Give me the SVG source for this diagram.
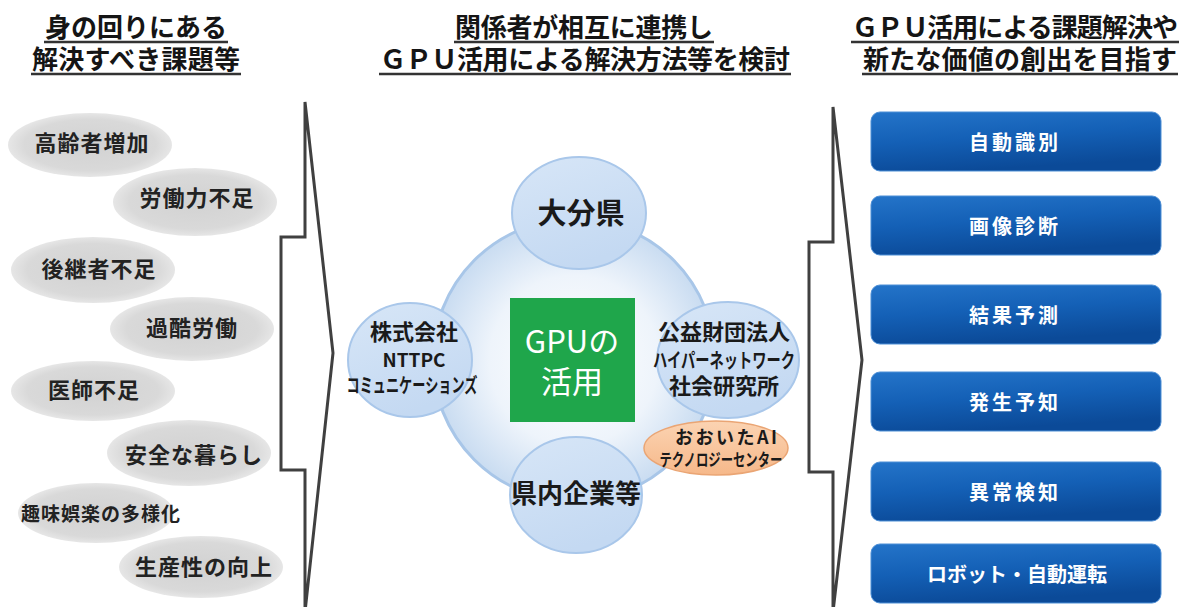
<svg xmlns="http://www.w3.org/2000/svg" width="1190" height="607" viewBox="0 0 1190 607">
<defs>
<radialGradient id="gEll" cx="50%" cy="50%" r="50%">
<stop offset="0" stop-color="#d2d2d2"/>
<stop offset="0.8" stop-color="#d9d9d9"/>
<stop offset="1" stop-color="#e6e6e6"/>
</radialGradient>
<radialGradient id="gBig" cx="50%" cy="50%" r="50%">
<stop offset="0" stop-color="#ffffff"/>
<stop offset="0.6" stop-color="#eef4fb"/>
<stop offset="1" stop-color="#c9dcf1"/>
</radialGradient>
<linearGradient id="gSmall" x1="0" y1="0" x2="0.4" y2="1">
<stop offset="0" stop-color="#d7e6f7"/>
<stop offset="1" stop-color="#c4d9f2"/>
</linearGradient>
<linearGradient id="gOrange" x1="0" y1="0" x2="0" y2="1">
<stop offset="0" stop-color="#fbd3b2"/>
<stop offset="1" stop-color="#f6b88a"/>
</linearGradient>
<linearGradient id="gBlue" x1="0" y1="0" x2="0.3" y2="1">
<stop offset="0" stop-color="#2474c9"/>
<stop offset="0.5" stop-color="#1460b6"/>
<stop offset="1" stop-color="#0b4a98"/>
</linearGradient>
<style>
.hd{font-family:"Noto Sans CJK JP","Noto Sans",sans-serif;font-weight:bold;font-size:26px;fill:#151515;text-anchor:middle}
.ul{stroke:#333;stroke-width:2.5}
.ell{fill:url(#gEll)}
.et{font-family:"Noto Sans CJK JP","Noto Sans",sans-serif;font-weight:bold;font-size:22px;fill:#222;text-anchor:middle;letter-spacing:1px}
.arrow{fill:#ffffff;stroke:#404040;stroke-width:3;stroke-linejoin:miter}
.big{fill:url(#gBig);stroke:#a8c6e8;stroke-width:3}
.sm{fill:url(#gSmall);stroke:#a9c7ea;stroke-width:2}
.ct{font-family:"Noto Sans CJK JP","Noto Sans",sans-serif;font-weight:bold;fill:#1a1a1a;text-anchor:middle}
.box{fill:url(#gBlue);stroke:#4d8fd6;stroke-width:1}
.bt{font-family:"Noto Sans CJK JP","Noto Sans",sans-serif;font-weight:bold;font-size:20px;fill:#ffffff;text-anchor:middle}
</style>
</defs>
<rect width="1190" height="607" fill="#ffffff"/>

<g id="header-left">
<text class="hd" x="136" y="37" textLength="182">身の回りにある</text>
<text class="hd" x="136" y="69" textLength="208">解決すべき課題等</text>
<line class="ul" x1="44" y1="42" x2="228" y2="42"/>
<line class="ul" x1="31" y1="74" x2="241" y2="74"/>
</g>
<g id="header-center">
<text class="hd" x="584" y="37" textLength="258">関係者が相互に連携し</text>
<text class="hd" x="585" y="69" textLength="410">ＧＰＵ活用による解決方法等を検討</text>
<line class="ul" x1="454" y1="42" x2="714" y2="42"/>
<line class="ul" x1="379" y1="74" x2="791" y2="74"/>
</g>
<g id="header-right">
<text class="hd" x="1015" y="37" textLength="326">ＧＰＵ活用による課題解決や</text>
<text class="hd" x="1020" y="69" textLength="314">新たな価値の創出を目指す</text>
<line class="ul" x1="851" y1="42" x2="1179" y2="42"/>
<line class="ul" x1="862" y1="74" x2="1178" y2="74"/>
</g>

<g id="issue-1"><ellipse class="ell" cx="90" cy="145" rx="82" ry="32"/><text class="et" x="92" y="151">高齢者増加</text></g>
<g id="issue-2"><ellipse class="ell" cx="195" cy="202" rx="82" ry="34"/><text class="et" x="197" y="206">労働力不足</text></g>
<g id="issue-3"><ellipse class="ell" cx="93" cy="270" rx="82" ry="33"/><text class="et" x="99" y="277">後継者不足</text></g>
<g id="issue-4"><ellipse class="ell" cx="192" cy="329" rx="82" ry="32"/><text class="et" x="192" y="336">過酷労働</text></g>
<g id="issue-5"><ellipse class="ell" cx="93" cy="391" rx="82" ry="30"/><text class="et" x="94" y="398">医師不足</text></g>
<g id="issue-6"><ellipse class="ell" cx="189" cy="453" rx="82" ry="33"/><text class="et" x="194" y="463">安全な暮らし</text></g>
<g id="issue-7"><ellipse class="ell" cx="96" cy="513" rx="78" ry="30"/><text class="et" x="101" y="521" style="font-size:19px" textLength="160">趣味娯楽の多様化</text></g>
<g id="issue-8"><ellipse class="ell" cx="201" cy="567" rx="82" ry="31"/><text class="et" x="204" y="575">生産性の向上</text></g>

<g id="connectors">
<polygon id="arrow-left" class="arrow" points="305,102 333,353 305,612 305,470 281,470 281,237 305,237"/>
<polygon id="arrow-right" class="arrow" points="833,107 862,360 833,612 833,472 809,472 809,242 833,242"/>
</g>

<g id="hub"><circle class="big" cx="574" cy="360" r="141"/></g>
<g id="gpu"><rect x="510" y="298" width="125" height="124" fill="#1fa64b"/>
<text x="572" y="353" style="font-family:'Noto Sans CJK JP','Noto Sans',sans-serif;font-size:31px;fill:#ffffff;text-anchor:middle">GPUの</text>
<text x="572" y="393" style="font-family:'Noto Sans CJK JP','Noto Sans',sans-serif;font-size:31px;fill:#ffffff;text-anchor:middle">活用</text></g>
<g id="oita"><ellipse class="sm" cx="579" cy="213" rx="67" ry="56"/><text class="ct" x="581" y="224" style="font-size:29px">大分県</text></g>
<g id="nttpc"><ellipse class="sm" cx="410" cy="360" rx="62" ry="57"/>
<text class="ct" x="414" y="340" style="font-size:22px">株式会社</text>
<text class="ct" x="414" y="367" style="font-size:19px">NTTPC</text>
<text class="ct" x="412" y="393" style="font-size:20px" textLength="131" lengthAdjust="spacingAndGlyphs">コミュニケーションズ</text></g>
<g id="hyper"><ellipse class="sm" cx="728" cy="360" rx="71" ry="58"/>
<text class="ct" x="724" y="340" style="font-size:22px">公益財団法人</text>
<text class="ct" x="724" y="368" style="font-size:20px" textLength="142" lengthAdjust="spacingAndGlyphs">ハイパーネットワーク</text>
<text class="ct" x="724" y="394" style="font-size:22px">社会研究所</text></g>
<g id="kennai"><ellipse class="sm" cx="576" cy="495" rx="66" ry="58"/><text class="ct" x="576" y="503" style="font-size:26px">県内企業等</text></g>
<g id="oita-ai"><ellipse cx="716" cy="448" rx="72" ry="27" fill="url(#gOrange)" stroke="#eaa574" stroke-width="1.5"/>
<text class="ct" x="726" y="444" style="font-size:18px" textLength="102">おおいたAI</text>
<text class="ct" x="721" y="466" style="font-size:17px" textLength="123" lengthAdjust="spacingAndGlyphs">テクノロジーセンター</text></g>

<g id="out-1"><rect class="box" x="871" y="112" width="290" height="59" rx="9"/><text class="bt" x="1015" y="150" letter-spacing="3">自動識別</text></g>
<g id="out-2"><rect class="box" x="871" y="196" width="290" height="59" rx="9"/><text class="bt" x="1015" y="234" letter-spacing="3">画像診断</text></g>
<g id="out-3"><rect class="box" x="871" y="285" width="290" height="59" rx="9"/><text class="bt" x="1015" y="323" letter-spacing="3">結果予測</text></g>
<g id="out-4"><rect class="box" x="871" y="372" width="290" height="59" rx="9"/><text class="bt" x="1015" y="410" letter-spacing="3">発生予知</text></g>
<g id="out-5"><rect class="box" x="871" y="462" width="290" height="59" rx="9"/><text class="bt" x="1015" y="500" letter-spacing="3">異常検知</text></g>
<g id="out-6"><rect class="box" x="871" y="544" width="290" height="59" rx="9"/><text class="bt" x="1017" y="582" textLength="180" lengthAdjust="spacingAndGlyphs">ロボット・自動運転</text></g>
</svg>
